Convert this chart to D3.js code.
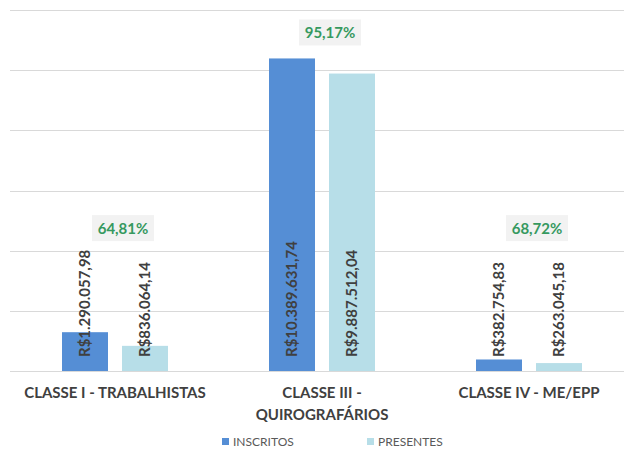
<!DOCTYPE html>
<html>
<head>
<meta charset="utf-8">
<script src="https://cdn.jsdelivr.net/npm/d3@7"></script>
<style>
  body { margin: 0; background: #fff; }
  svg { display: block; font-family: Lato, "Open Sans", sans-serif; }
</style>
</head>
<body>
<script>
// chart size
const width = 624;
const height = 450;

// data
const categories = ["CLASSE I - TRABALHISTAS", "CLASSE III - QUIROGRAFÁRIOS", "CLASSE IV - ME/EPP"];
const categoryLines = [["CLASSE I - TRABALHISTAS"], ["CLASSE III -", "QUIROGRAFÁRIOS"], ["CLASSE IV - ME/EPP"]];
const series = ["INSCRITOS", "PRESENTES"];
const inscritos = [1290057.98, 10389631.74, 382754.83];
const presentes = [836064.14, 9887512.04, 263045.18];
const yTicks = [0, 2e6, 4e6, 6e6, 8e6, 10e6, 12e6];

const colors = {INSCRITOS: "#558ed5", PRESENTES: "#b7dee8"};

const rows = categories.map((c, i) => ({
  cat: c,
  lines: categoryLines[i],
  values: [inscritos[i], presentes[i]],
  pct: presentes[i] / inscritos[i]
}));

const svg = d3.select("body")
  .append("svg")
  .attr("width", width)
  .attr("height", height);

// scales
const x0 = d3.scaleBand()
  .domain(categories)
  .range([11.5, 632.5]);

const x1 = d3.scaleBand()
  .domain(series)
  .range([-53, 53])
  .paddingInner(0.2333);

const y = d3.scaleLinear()
  .domain([0, 12e6])
  .range([371, 10]);

// gridlines
svg.append("g")
  .selectAll("line")
  .data(yTicks)
  .join("line")
  .attr("x1", 10)
  .attr("x2", width)
  .attr("y1", d => Math.round(y(d)) + 0.5)
  .attr("y2", d => Math.round(y(d)) + 0.5)
  .attr("stroke", "#d9d9d9")
  .attr("stroke-width", 1);

// bars
const groups = svg.append("g")
  .selectAll("g")
  .data(rows)
  .join("g")
  .attr("transform", d => `translate(${x0(d.cat) + x0.bandwidth() / 2},0)`);

const fmtMoney = v => "R$" + d3.format(",.2f")(v).replace(/,/g, "#").replace(".", ",").replace(/#/g, ".");

groups.selectAll("rect")
  .data(d => d.values.map((v, i) => ({s: series[i], v: v})))
  .join("rect")
  .attr("x", d => x1(d.s))
  .attr("width", x1.bandwidth())
  .attr("y", d => y(d.v))
  .attr("height", d => y(0) - y(d.v))
  .attr("fill", d => colors[d.s]);

// value labels, rotated, starting at base
groups.selectAll("text.val")
  .data(d => d.values.map((v, i) => ({s: series[i], v: v})))
  .join("text")
  .attr("class", "val")
  .attr("transform", d => `translate(${x1(d.s) + x1.bandwidth() / 2},${y(0) - 14}) rotate(-90)`)
  .attr("dy", "0.36em")
  .attr("text-anchor", "start")
  .attr("font-size", 15)
  .attr("font-weight", 700)
  .attr("fill", "#404040")
  .text(d => fmtMoney(d.v));

// percentage labels
const pctY = d => Math.min(y(4.75e6), y(d3.max(d.values)) - 26);

groups.append("rect")
  .attr("x", 8 - 31)
  .attr("y", d => pctY(d) - 13)
  .attr("width", 62)
  .attr("height", 26)
  .attr("fill", "#f2f2f2");

groups.append("text")
  .attr("x", 8)
  .attr("y", d => pctY(d))
  .attr("dy", "0.36em")
  .attr("text-anchor", "middle")
  .attr("font-size", 15)
  .attr("font-weight", 700)
  .attr("fill", "#36995f")
  .text(d => d3.format(".2f")(d.pct * 100).replace(".", ",") + "%");

// category labels
groups.append("text")
  .attr("text-anchor", "middle")
  .attr("font-size", 15)
  .attr("font-weight", 700)
  .attr("fill", "#404040")
  .selectAll("tspan")
  .data(d => d.lines)
  .join("tspan")
  .attr("x", 0)
  .attr("y", (d, i) => 398 + i * 22)
  .text(d => d);

// legend
const legend = svg.append("g")
  .selectAll("g")
  .data(series)
  .join("g")
  .attr("transform", (d, i) => `translate(${222 + i * 145},438)`);

legend.append("rect")
  .attr("width", 7)
  .attr("height", 7)
  .attr("fill", d => colors[d]);

legend.append("text")
  .attr("x", 11)
  .attr("y", 8)
  .attr("font-size", 12)
  .attr("fill", "#595959")
  .text(d => d);
</script>
</body>
</html>
